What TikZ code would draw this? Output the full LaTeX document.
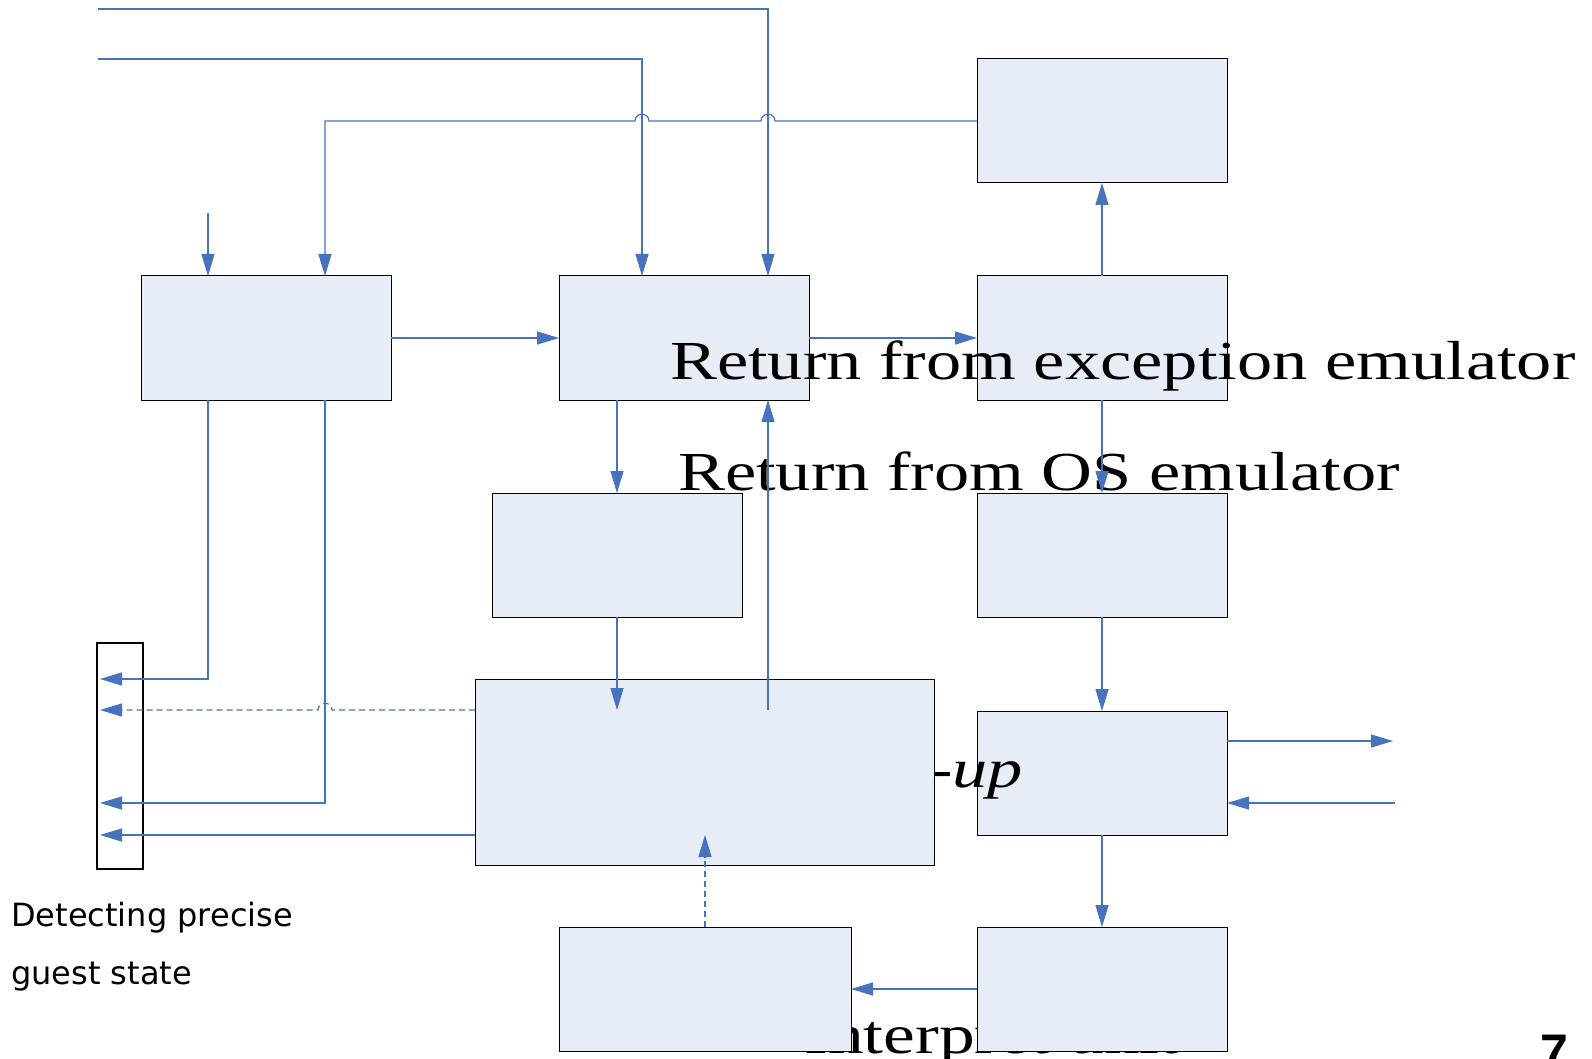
\documentclass[tikz,border=0pt]{standalone}
\usepackage{fontspec}
\usepackage{graphicx}
\setmainfont{Liberation Serif}
\newfontfamily\labelsans{DejaVu Sans}
\newfontfamily\pagesans{Liberation Sans}
\usetikzlibrary{arrows.meta}
\definecolor{flow}{RGB}{70,114,190}
\definecolor{boxfill}{RGB}{230,237,247}

\begin{document}
\begin{tikzpicture}[x=1pt,y=-1pt,
  blk/.style={draw=black,line width=1pt,fill=boxfill,inner sep=0pt,outer sep=0pt,
              minimum width=250pt,minimum height=124pt},
  wire/.style={draw=flow,line width=1.2pt},
  tip/.style={-{Triangle[length=22pt,width=13pt]}},
  arr/.style={wire,tip},
  dashwire/.style={wire,dash pattern=on 6pt off 4pt},
  bigtext/.style={font=\fontsize{55}{60}\selectfont,inner sep=0pt,anchor=base west},
]
\useasboundingbox[fill=white] (0,0) rectangle (1592,1059);

% label lying under the two bottom blocks
\node[bigtext] (tint) at (804,1053) {\scalebox{1.30}[1]{Interpret unit}};

% blocks
\node[blk] (b1) at (1102,121) {};
\node[blk] (b2) at (266,338) {};
\node[blk] (b3) at (684,338) {};
\node[blk] (b4) at (1102,338) {};
\node[blk] (b5) at (617,555) {};
\node[blk] (b6) at (1102,555) {};
\node[blk] (b8) at (1102,773) {};
\node[bigtext] (tup) at (929,787) {\scalebox{1.28}[1]{\itshape -up}};
\node[blk,minimum width=459pt,minimum height=186pt] (b7) at (704.5,772) {};
\node[blk,minimum width=292pt] (b9) at (705,989) {};
\node[blk] (b10) at (1102,989) {};
\node[draw=black,line width=2pt,fill=white,inner sep=0pt,outer sep=0pt,
      minimum width=46pt,minimum height=226pt] (lb) at (120,756) {};

% texts over the blocks
\node[bigtext] (t1) at (670,379) {\scalebox{1.28}[1]{Return from exception emulator}};
\node[bigtext] (t2) at (678,490) {\scalebox{1.28}[1]{Return from OS emulator}};

% helper columns and free ends
\coordinate (cA) at (208,0);
\coordinate (cB) at (325,0);
\coordinate (cC) at (642,0);
\coordinate (cD) at (768,0);
\coordinate (src0) at (208,213);
\coordinate (in1) at (98,9);
\coordinate (in2) at (98,59);
\coordinate (b7a) at (617,710);
\coordinate (b7b) at (768,710);
\coordinate (b7c) at (705,835);
\coordinate (out1) at (1393,741);
\coordinate (ret1) at (1395,803);
\coordinate (d1) at (100,679);
\coordinate (d2) at (100,710);
\coordinate (d3) at (100,803);
\coordinate (d4) at (100,835);

% incoming lines from the top
\draw[arr] (in1) -| (b3.north -| cD);
\draw[arr] (in2) -| (b3.north -| cC);
\draw[arr] (src0) -- (src0 |- b2.north);
\draw[arr] (b1.west) -- (775,121) .. controls (775,112) and (761,112) .. (761,121)
  -- (649,121) .. controls (649,112) and (635,112) .. (635,121)
  -- (325,121) -- (b2.north -| cB);

% main flow
\draw[arr] (b2.east) -- (b3.west);
\draw[arr] (b3.east) -- (b4.west);
\draw[arr] (b4.north) -- (b1.south);
\draw[arr] (b3.south -| b5) -- (b5.north);
\draw[arr] (b5.south) -- (b7a);
\draw[arr] (b7b) -- (b7b |- b3.south);
\draw[arr] (b4.south) -- (b6.north);
\draw[arr] (b6.south) -- (b8.north);
\draw[arr] (b8.south) -- (b10.north);
\draw[arr] (b10.west) -- (b9.east);
\draw[dashwire,tip] (b9.north) -- (b7c);
\draw[arr] (b8.east |- out1) -- (out1);
\draw[arr] (ret1) -- (ret1 -| b8.east);

% lines into the guest state column
\draw[arr] (b2.south -| cA) |- (d1);
\draw[arr] (b2.south -| cB) |- (d3);
\draw[arr] (b7.west |- d4) -- (d4);
\draw[dashwire,tip] (b7.west |- d2) -- (332,710) .. controls (332,701) and (318,701) .. (318,710) -- (d2);

% captions
\node[font=\labelsans\fontsize{32}{58}\selectfont,anchor=base west,inner sep=0pt] (det1) at (11,926) {Detecting precise};
\node[font=\labelsans\fontsize{32}{58}\selectfont,anchor=base west,inner sep=0pt] (det2) at (11,984) {guest state};
\node[font=\pagesans\bfseries\fontsize{50}{50}\selectfont,anchor=base west,inner sep=0pt] (pg) at (1540,1069) {7};
\end{tikzpicture}
\end{document}
